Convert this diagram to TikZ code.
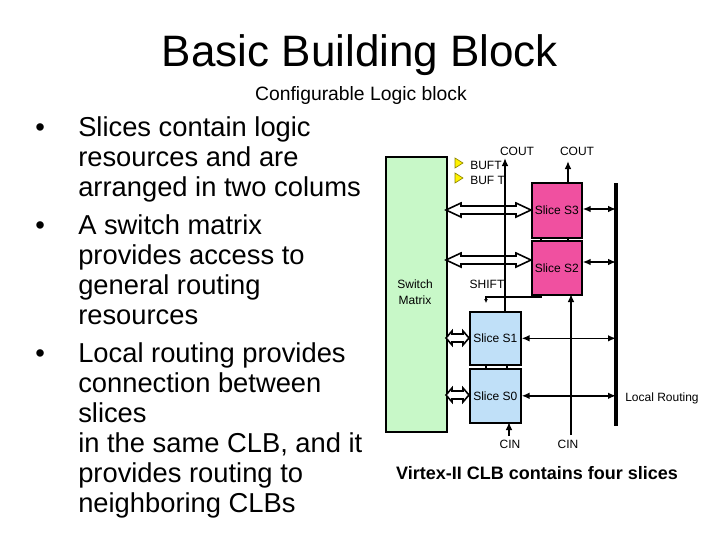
\documentclass[tikz,border=0pt]{standalone}
\usepackage{fontspec}
\setmainfont{Liberation Sans}
\usetikzlibrary{arrows.meta}
\definecolor{smgreen}{HTML}{C8F8C8}
\definecolor{spink}{HTML}{F050A0}
\definecolor{sblue}{HTML}{C0E0F8}
\newcommand\hollowarrow[4]{% x1 x2 y headlength
  \draw[line width=1.2pt,fill=white,line join=miter]
   (#1,#3) -- (#1+#4,#3-7) -- (#1+#4,#3-4) -- (#2-#4,#3-4) -- (#2-#4,#3-7) -- (#2,#3)
   -- (#2-#4,#3+7) -- (#2-#4,#3+4) -- (#1+#4,#3+4) -- (#1+#4,#3+7) -- cycle;}
\begin{document}
\begin{tikzpicture}[x=0.75pt,y=-0.75pt,
  slice/.style={draw,line width=1.2pt,inner sep=0pt,font=\fontsize{9}{10}\selectfont},
  lbl/.style={font=\fontsize{9}{10}\selectfont,inner sep=0pt},
  bul/.style={font=\fontsize{20.5}{22.5}\selectfont,anchor=base west,inner sep=0pt},
  conn/.style={line width=1.2pt,-{Latex[length=6pt,width=5pt]}},
  biconn/.style={line width=1.2pt,{Latex[length=6pt,width=5pt]}-{Latex[length=6pt,width=5pt]}}]
\useasboundingbox (0,0) rectangle (720,540);
\node[inner sep=0pt,font=\fontsize{33}{36}\selectfont] (title) at (360,55) {Basic Building Block};
\node[inner sep=0pt,font=\fontsize{14.5}{16}\selectfont] (sub) at (361,95) {Configurable Logic block};
% bullets
\foreach \y/\t [count=\i] in {128/{Slices contain logic},158/{resources and are},188/{arranged in two colums},226/{A switch matrix},256/{provides access to},286/{general routing},316/{resources},354/{Local routing provides},384/{connection between},414/{slices},444/{in the same CLB, and it},474/{provides routing to},504/{neighboring CLBs}}
  \node[bul] (b\i) at (78,\y+8) {\t};
\foreach \y [count=\i] in {128,226,354}
  \node[bul] (dot\i) at (35,\y+8) {\textbullet};
% switch matrix
\node[draw,line width=1.2pt,fill=smgreen,minimum width=61*0.75pt,minimum height=275*0.75pt,anchor=north west,inner sep=0pt] (sm) at (385,156) {};
\node[lbl,align=center,font=\fontsize{9}{12}\selectfont] (smt) at (415,292) {Switch\\Matrix};
% hollow arrows
\hollowarrow{446}{531}{210}{15}
\hollowarrow{446}{531}{260}{15}
\hollowarrow{446}{469}{338}{6}
\hollowarrow{446}{469}{395}{6}
% slices
\node[slice,fill=spink,minimum width=50*0.75pt,minimum height=55*0.75pt,anchor=north west] (s3) at (531,182) {Slice S3};
\node[slice,fill=spink,minimum width=50*0.75pt,minimum height=54*0.75pt,anchor=north west] (s2) at (531,240) {Slice S2};
\node[slice,fill=sblue,minimum width=51*0.75pt,minimum height=53*0.75pt,anchor=north west] (s1) at (469,311) {Slice S1};
\node[slice,fill=sblue,minimum width=51*0.75pt,minimum height=54*0.75pt,anchor=north west] (s0) at (469,368) {Slice S0};
% local routing bus
\coordinate (lrt) at (616,183);
\coordinate (lrb) at (616,426);
\draw[line width=2.5pt] (lrt) -- (lrb);
\node[lbl,anchor=west] (lr) at (625,398) {Local Routing};
% slice links
\draw[line width=1.2pt] (541,237) -- (541,240) (568,237) -- (568,240) (486,364) -- (486,368) (507,364) -- (507,368);
% carry chains
\coordinate (c1t) at (505,158);
\draw[conn] (505,311) -- (c1t);
\node[lbl] (cout1) at (517,151) {COUT};
\coordinate (c2t) at (568,161);
\draw[conn] (s3.north -| c2t) -- (c2t);
\node[lbl] (cout2) at (577,151) {COUT};
\coordinate (cin1) at (509,436);
\draw[conn] (cin1) -- (509,422);
\node[lbl] (cint1) at (510,444) {CIN};
\coordinate (cin2) at (571,435);
\draw[conn] (cin2) -- (571,294);
\node[lbl] (cint2) at (568,444) {CIN};
% shift
\coordinate (sh) at (486,303);
\draw[line width=1.2pt,-{Latex[length=3pt,width=3pt]}] (541,294) -- (541,297) -- (486,297) -- (sh);
\node[lbl] (shift) at (487,284) {SHIFT};
% BUFT
\foreach \y/\t [count=\i] in {163/BUFT,178/BUF T}{
  \draw[fill=yellow,draw=olive,line width=0.5pt] (455,\y-5) -- (463,\y) -- (455,\y+5) -- cycle;
  \node[lbl,anchor=west] (bt\i) at (470,\y+2) {\t};}
% local routing arrows
\draw[biconn] (s3.east |- 0,209) -- (lrt |- 0,209);
\draw[biconn] (s2.east |- 0,262) -- (lrt |- 0,262);
\draw[biconn] (s1.east) -- (lrt |- s1.east);
\draw[biconn] (s0.east) -- (lrt |- s0.east);
\node[inner sep=0pt,font=\bfseries\fontsize{13.5}{15}\selectfont] (cap) at (537,473) {Virtex-II CLB contains four slices};
\end{tikzpicture}
\end{document}
